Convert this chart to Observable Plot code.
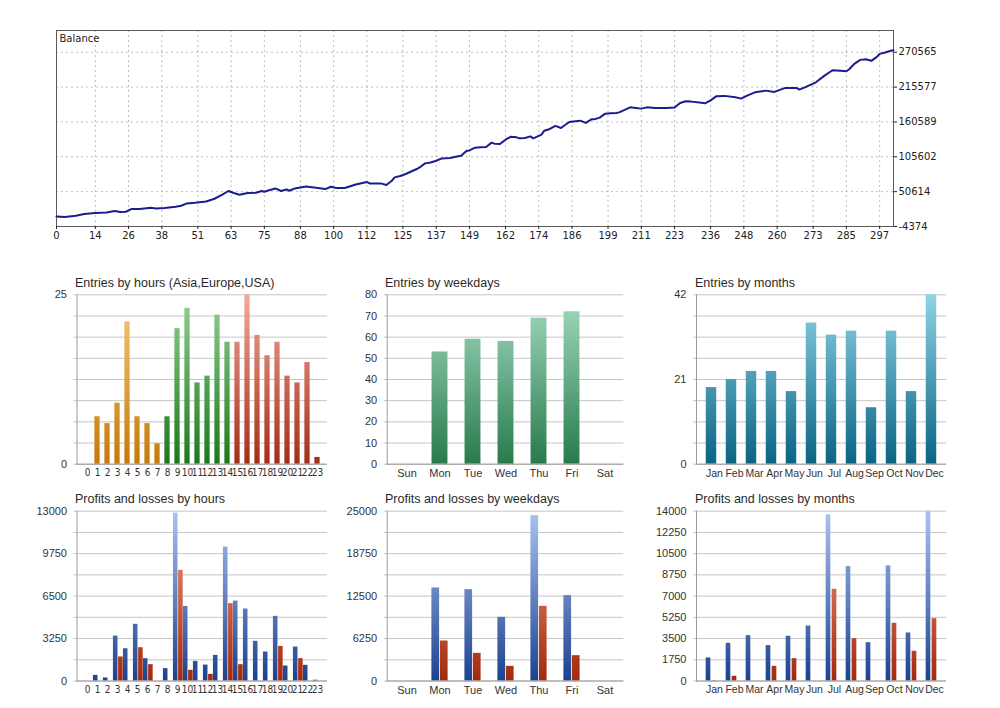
<!DOCTYPE html>
<html>
<head>
<meta charset="utf-8">
<script src="https://cdn.jsdelivr.net/npm/d3@7"></script>
<script src="https://cdn.jsdelivr.net/npm/@observablehq/plot@0.6"></script>
<style>
  html, body { margin: 0; padding: 0; background: #fff; }
  #root { position: relative; width: 1000px; height: 708px; overflow: hidden; background: #fff; }
  .title { position: absolute; font-family: "Liberation Sans", Arial, sans-serif; font-size: 12.5px; color: #2a2a2a; white-space: nowrap; line-height: 15px; }
  svg { overflow: visible; }
</style>
</head>
<body>
<div id="root"></div>
<script>
// ---------------- DATA ----------------
const balanceTrades = [0,3,7,10,14,18,21,23,25,27,30,34,36,39,43,45,47,50,54,57,60,62,64,66,69,72,74,75,77,79,81,83,84,86,90,93,97,99,101,104,108,112,113,117,119,121,122,124,126,130,131,133,135,137,139,142,144,146,148,149,151,153,155,157,158,160,162,164,166,167,169,171,172,175,176,178,180,182,184,185,189,191,193,194,196,198,200,202,203,205,207,209,211,213,216,220,223,225,227,229,232,234,236,238,241,245,247,249,252,256,259,263,267,268,270,274,277,280,283,285,286,288,290,292,294,296,297,299,301,302];
const balanceValues = [11400,10500,12500,15200,16800,17800,20000,18400,18900,23100,23100,25200,24100,24700,26800,28300,32000,33100,35100,39400,46200,51600,48400,45700,48400,48900,51600,50500,53100,55700,51600,54100,52000,55700,58800,57200,54700,58400,56300,56300,62000,65800,63600,63600,61000,67800,73100,75300,78400,86300,88800,95200,96700,99400,103100,103700,105800,107300,115200,115700,120000,120500,121100,127900,126300,125800,132600,137400,136300,134700,135300,137800,134700,140500,146800,149500,154300,151100,157400,160600,162600,159000,164700,164700,167400,173700,174200,174800,175700,179500,183600,182700,181600,183600,182700,182700,183200,190600,193100,192650,191100,190000,194700,201000,201700,199400,197400,201700,207300,210000,208000,214300,214300,211600,215200,223100,233300,242100,241200,240500,243700,252700,258500,259500,257000,263300,268000,270100,272800,273700];
const balanceTicksX = [0,14,26,38,51,63,75,88,100,112,125,137,149,162,174,186,199,211,223,236,248,260,273,285,297];
const balanceTicksY = [-4374,50614,105602,160589,215577,270565];
const balanceDomainX = [0, 302];
const balanceDomainY = [-4374, 304855];

const hours = [0,1,2,3,4,5,6,7,8,9,10,11,12,13,14,15,16,17,18,19,20,21,22,23];
const hourSessions = ["Asia","Asia","Asia","Asia","Asia","Asia","Asia","Asia","Europe","Europe","Europe","Europe","Europe","Europe","Europe","USA","USA","USA","USA","USA","USA","USA","USA","USA"];
const hourEntries = [0,7,6,9,21,7,6,3,7,20,23,12,13,22,18,18,25,19,16,18,13,12,15,1];
const hourProfits = [0,430,230,3440,2470,4340,1710,0,950,12850,5710,1500,1220,1960,10250,6120,5510,3040,2220,4950,1150,2600,1200,60];
const hourLosses  = [0,0,0,1840,0,2550,1250,0,0,8470,820,0,510,0,5920,1250,0,0,0,2650,0,1710,0,0];
const hourEntryTicks = [0,25];
const hourProfitTicks = [0,3250,6500,9750,13000];

const weekdays = ["Sun","Mon","Tue","Wed","Thu","Fri","Sat"];
const weekdayEntries = [0,53,59,58,69,72,0];
const weekdayProfits = [0,13700,13450,9380,24350,12570,0];
const weekdayLosses  = [0,5890,4075,2160,11000,3730,0];
const weekdayEntryTicks = [0,10,20,30,40,50,60,70,80];
const weekdayProfitTicks = [0,6250,12500,18750,25000];

const months = ["Jan","Feb","Mar","Apr","May","Jun","Jul","Aug","Sep","Oct","Nov","Dec"];
const monthEntries = [19,21,23,23,18,35,32,33,14,33,18,42];
const monthProfits = [1900,3110,3740,2920,3690,4540,13700,9430,3160,9490,3960,14000];
const monthLosses  = [30,390,0,1210,1840,0,7560,3490,0,4760,2450,5140];
const monthEntryTicks = [0,21,42];
const monthProfitTicks = [0,1750,3500,5250,7000,8750,10500,12250,14000];

// ---------------- HELPERS ----------------
const root = document.getElementById("root");
const NS = "http://www.w3.org/2000/svg";

function place(node, left, top) {
  node.style.position = "absolute";
  node.style.left = left + "px";
  node.style.top = top + "px";
  root.appendChild(node);
}
function title(text, left, top) {
  const d = document.createElement("div");
  d.className = "title";
  d.textContent = text;
  d.style.left = left + "px";
  d.style.top = top + "px";
  root.appendChild(d);
}
// vertical gradient spanning the plot area (lighter at top, darker at baseline)
function gradients(list) {
  return (index, scales, values, dims) => {
    const defs = document.createElementNS(NS, "defs");
    for (const [id, top, bottom] of list) {
      const g = document.createElementNS(NS, "linearGradient");
      g.setAttribute("id", id);
      g.setAttribute("gradientUnits", "userSpaceOnUse");
      g.setAttribute("x1", 0); g.setAttribute("x2", 0);
      g.setAttribute("y1", dims.marginTop);
      g.setAttribute("y2", dims.height - dims.marginBottom);
      for (const [o, c] of [[0, top], [1, bottom]]) {
        const s = document.createElementNS(NS, "stop");
        s.setAttribute("offset", o);
        s.setAttribute("stop-color", c);
        g.appendChild(s);
      }
      defs.appendChild(g);
    }
    return defs;
  };
}

// ---------------- BALANCE CHART ----------------
const balance = balanceTrades.map((t, i) => ({trade: t, value: balanceValues[i]}));
const balancePlot = Plot.plot({
  width: 1000, height: 250,
  marginLeft: 56, marginRight: 107, marginTop: 30, marginBottom: 24,
  style: {fontFamily: '"DejaVu Sans", Verdana, sans-serif', fontSize: "10px", color: "#222", background: "transparent"},
  x: {domain: balanceDomainX},
  y: {domain: balanceDomainY},
  marks: [
    Plot.ruleX(balanceTicksX.slice(1), {stroke: "#bdbdbd", strokeDasharray: "2,3"}),
    Plot.ruleY(balanceTicksY.slice(1), {stroke: "#bdbdbd", strokeDasharray: "2,3"}),
    Plot.frame({stroke: "#5a5a5a"}),
    Plot.line(balance, {x: "trade", y: "value", stroke: "#1c1c8e", strokeWidth: 2}),
    Plot.axisX({ticks: balanceTicksX, tickSize: 3, tickPadding: 2, label: null, tickFormat: d => String(d)}),
    Plot.axisY({anchor: "right", ticks: balanceTicksY, tickSize: 3, tickPadding: 2, label: null, tickFormat: d => String(d)}),
    Plot.text(["Balance"], {frameAnchor: "top-left", dx: 3, dy: 4, fill: "#222", fontSize: 10})
  ]
});
place(balancePlot, 0, 0);

// ---------------- BAR PANELS ----------------
const ROW1 = {top: 285, height: 200, mT: 9.3, mB: 21.3};
const ROW2 = {top: 500, height: 200, mT: 10.7, mB: 19.5};
const COL1 = {left: 0,   width: 340, mL: 76.5, mR: 13};
const COL2 = {left: 340, width: 300, mL: 46.7, mR: 16.7};
const COL3 = {left: 640, width: 360, mL: 56,   mR: 54};

function barPanel({col, row, domainX, domainY, labelTicks, grads, marks, xdx = 0, xFont = {}}) {
  const grid = d3.range(9).map(i => domainY[1] * i / 8);
  const p = Plot.plot({
    width: col.width, height: row.height,
    marginLeft: col.mL, marginRight: col.mR, marginTop: row.mT, marginBottom: row.mB,
    style: {fontFamily: '"Liberation Sans", Arial, sans-serif', fontSize: "11px", color: "#333", background: "transparent"},
    x: {domain: domainX, type: "band", padding: 0},
    y: {domain: domainY},
    marks: [
      gradients(grads),
      Plot.ruleY(grid, {stroke: "#c6c6c6", insetLeft: -3}),
      Plot.axisY({ticks: labelTicks, tickSize: 0, tickPadding: 10, label: null, tickFormat: d => String(d)}),
      ...marks,
      Plot.ruleY([0], {stroke: "#9a9a9a"}),
      Plot.frame({anchor: "left", stroke: "#9a9a9a"}),
      Plot.axisX({tickSize: 0, tickPadding: 5, dx: xdx, label: null, ...xFont})
    ]
  });
  place(p, col.left, row.top);
  return p;
}
function stepOf(col, n) { return (col.width - col.mL - col.mR) / n; }
const narrowFont = {fontFamily: '"Liberation Sans Narrow", "DejaVu Sans Condensed", "Liberation Sans", sans-serif', fontSize: 10};
const monthFont = {fontSize: 10.5};

// Entries by hours
const hourRows = hours.map((h, i) => ({hour: h, session: hourSessions[i], entries: hourEntries[i], profit: hourProfits[i], loss: hourLosses[i]}));
{
  const ins = (stepOf(COL1, 24) - 5.7) / 2;
  barPanel({
    col: COL1, row: ROW1, domainX: hours, domainY: [0, 25], labelTicks: hourEntryTicks, xFont: narrowFont,
    grads: [["gAsia", "#f6cc78", "#c47a0a"], ["gEur", "#93d293", "#1b781b"], ["gUsa", "#f2aa9a", "#a32c16"]],
    marks: [
      Plot.barY(hourRows, {filter: d => d.session === "Asia", x: "hour", y: "entries", fill: "url(#gAsia)", insetLeft: ins, insetRight: ins}),
      Plot.barY(hourRows, {filter: d => d.session === "Europe", x: "hour", y: "entries", fill: "url(#gEur)", insetLeft: ins, insetRight: ins}),
      Plot.barY(hourRows, {filter: d => d.session === "USA", x: "hour", y: "entries", fill: "url(#gUsa)", insetLeft: ins, insetRight: ins})
    ]
  });
  title("Entries by hours (Asia,Europe,USA)", 75, 276);
}
// Profits and losses by hours
{
  const ins = (stepOf(COL1, 24) - 5) / 2;
  barPanel({
    col: COL1, row: ROW2, domainX: hours, domainY: [0, 13000], labelTicks: hourProfitTicks, xFont: narrowFont,
    grads: [["gPh", "#abc3f0", "#1c428f"], ["gLh", "#f3a184", "#a3290e"]],
    marks: [
      Plot.barY(hourRows, {x: "hour", y: "profit", fill: "url(#gPh)", insetLeft: ins, insetRight: ins, dx: -1.8}),
      Plot.barY(hourRows, {x: "hour", y: "loss", fill: "url(#gLh)", insetLeft: ins, insetRight: ins, dx: 3.4})
    ]
  });
  title("Profits and losses by hours", 75, 492);
}
// Entries by weekdays
const weekdayRows = weekdays.map((d, i) => ({day: d, entries: weekdayEntries[i], profit: weekdayProfits[i], loss: weekdayLosses[i]}));
{
  const ins = (stepOf(COL2, 7) - 16.7) / 2;
  barPanel({
    col: COL2, row: ROW1, domainX: weekdays, domainY: [0, 80], labelTicks: weekdayEntryTicks,
    grads: [["gWd", "#a4dcc2", "#287a4c"]],
    marks: [
      Plot.barY(weekdayRows, {x: "day", y: "entries", fill: "url(#gWd)", insetLeft: ins, insetRight: ins})
    ]
  });
  title("Entries by weekdays", 385, 276);
}
// Profits and losses by weekdays
{
  const ins = (stepOf(COL2, 7) - 8.5) / 2;
  barPanel({
    col: COL2, row: ROW2, domainX: weekdays, domainY: [0, 25000], labelTicks: weekdayProfitTicks,
    grads: [["gPw", "#abc3f0", "#1c428f"], ["gLw", "#f3a184", "#a3290e"]],
    marks: [
      Plot.barY(weekdayRows, {x: "day", y: "profit", fill: "url(#gPw)", insetLeft: ins, insetRight: ins, dx: -4.25}),
      Plot.barY(weekdayRows, {x: "day", y: "loss", fill: "url(#gLw)", insetLeft: ins, insetRight: ins, dx: 4.25})
    ]
  });
  title("Profits and losses by weekdays", 385, 492);
}
// Entries by months
const monthRows = months.map((m, i) => ({month: m, entries: monthEntries[i], profit: monthProfits[i], loss: monthLosses[i]}));
{
  const ins = (stepOf(COL3, 12) - 11.3) / 2;
  barPanel({
    col: COL3, row: ROW1, domainX: months, domainY: [0, 42], labelTicks: monthEntryTicks, xdx: 3, xFont: monthFont,
    grads: [["gMo", "#8fd3e6", "#0a6483"]],
    marks: [
      Plot.barY(monthRows, {x: "month", y: "entries", fill: "url(#gMo)", insetLeft: ins, insetRight: ins})
    ]
  });
  title("Entries by months", 695, 276);
}
// Profits and losses by months
{
  const ins = (stepOf(COL3, 12) - 5.5) / 2;
  barPanel({
    col: COL3, row: ROW2, domainX: months, domainY: [0, 14000], labelTicks: monthProfitTicks, xdx: 3, xFont: monthFont,
    grads: [["gPm", "#abc3f0", "#1c428f"], ["gLm", "#f3a184", "#a3290e"]],
    marks: [
      Plot.barY(monthRows, {x: "month", y: "profit", fill: "url(#gPm)", insetLeft: ins, insetRight: ins, dx: -3}),
      Plot.barY(monthRows, {x: "month", y: "loss", fill: "url(#gLm)", insetLeft: ins, insetRight: ins, dx: 3})
    ]
  });
  title("Profits and losses by months", 695, 492);
}
</script>
</body>
</html>
